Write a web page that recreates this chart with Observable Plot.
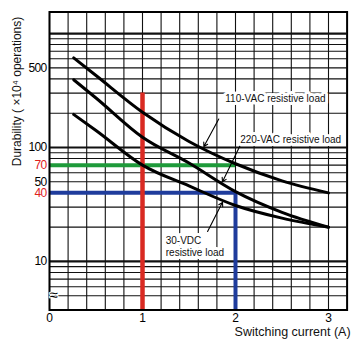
<!DOCTYPE html>
<html><head><meta charset="utf-8">
<script src="https://cdn.jsdelivr.net/npm/d3@7"></script>
<script src="https://cdn.jsdelivr.net/npm/@observablehq/plot@0.6"></script>
<style>
html,body{margin:0;padding:0;background:#fff;}
#chart svg{display:block;}
.tk text{letter-spacing:-0.7px;}
</style></head><body><div id="chart"></div>
<script>
// Data
const currents = [0.26, 0.5, 1, 1.5, 2, 2.5, 3];
const vac110 = [612, 428, 204, 113, 72, 51, 40];
const vac220 = [393, 272, 123, 73, 41, 27, 20];
const vdc30  = [195, 141, 70, 46, 31, 24, 20];
const seriesNames = ["110-VAC resistive load", "220-VAC resistive load", "30-VDC\nresistive load"];
const xTickLabels = [0, 1, 2, 3];
const yTickLabels = [500, 100, 50, 10];
const yTickLabelsRed = [70, 40];
const xGridValues = [0,0.2,0.4,0.6,0.8,1,1.2,1.4,1.6,1.8,2,2.2,2.4,2.6,2.8,3];
const yGridValues = [5,6,7,8,9,20,30,40,50,60,70,80,90,200,300,400,500,600,700,800,900];
const yDecades = [10, 100, 1000];
// highlighted reading: 1 A (up to 300), 2 A → 70 (110-VAC), 40 (220-VAC)
const redCurrent = [1];
const redTop = 300;
const guideCurrent = [2];
const greenValue = [70];
const blueValue = [40];
// label anchors (current, durability) and arrows (from → to)
const labelAt = [[1.89, 269], [2.05, 117.5], [1.25, 13.7]];
const arrowLinks = [[1.82, 178, 1.66, 102], [2.05, 104, 1.86, 50], [1.70, 18.3, 1.86, 33]];

const yMin = 3.75, yMax = 1545;
const rows = [];
[vac110, vac220, vdc30].forEach((vals, k) => currents.forEach((c, i) => rows.push({c, v: vals[i], s: k})));

const narrow = "'Liberation Sans Narrow', 'Arial Narrow', 'Liberation Sans', Arial, sans-serif";
const sans = "'Liberation Sans', Arial, Helvetica, sans-serif";

const chart = Plot.plot({
  width: 362, height: 345,
  marginLeft: 49, marginRight: 15.4, marginTop: 11.5, marginBottom: 35.5,
  x: {domain: [0, 3.2], axis: null},
  y: {type: "log", domain: [yMin, yMax], axis: null},
  style: {fontFamily: sans, background: "white"},
  marks: [
    Plot.gridX(xGridValues, {stroke: "#111", strokeOpacity: 1, strokeWidth: 1.1}),
    Plot.gridY(yGridValues, {stroke: "#111", strokeOpacity: 1, strokeWidth: 1.1}),
    Plot.gridY(yDecades, {stroke: "#111", strokeOpacity: 1, strokeWidth: 2.2}),
    Plot.ruleY(greenValue, {x1: 0, x2: guideCurrent[0], stroke: "#1e9a3a", strokeWidth: 4}),
    Plot.ruleY(blueValue, {x1: 0, x2: guideCurrent[0], stroke: "#1f3c9c", strokeWidth: 4}),
    Plot.ruleX(guideCurrent, {y1: yMin, y2: blueValue[0], stroke: "#1f3c9c", strokeWidth: 4}),
    Plot.ruleX(redCurrent, {y1: yMin, y2: redTop, stroke: "#d92a22", strokeWidth: 4.5}),
    Plot.line(rows, {x: "c", y: "v", z: "s", stroke: "#000", strokeWidth: 3, curve: "monotone-x"}),
    Plot.frame({stroke: "#000", strokeWidth: 2}),
    Plot.arrow(arrowLinks, {x1: d => d[0], y1: d => d[1], x2: d => d[2], y2: d => d[3], stroke: "#000", strokeWidth: 1.1, headLength: 6}),
    Plot.text(seriesNames, {x: (d, i) => labelAt[i][0], y: (d, i) => labelAt[i][1], text: d => d,
      textAnchor: "start", lineAnchor: "middle", lineHeight: 1.2, fontSize: 10, fill: "#111", stroke: "white", strokeWidth: 6}),
    Plot.text(["≈"], {frameAnchor: "bottom-left", dy: -10, text: d => d, fontSize: 15, fill: "#000", stroke: "white", strokeWidth: 2}),
    Plot.text(yTickLabels, {x: 0, y: d => d, text: d => String(d), dx: -3, textAnchor: "end", fontSize: 12, fontFamily: narrow, fill: "#000", className: "tk"}),
    Plot.text(yTickLabelsRed, {x: 0, y: d => d, text: d => String(d), dx: -3, textAnchor: "end", fontSize: 12, fontFamily: narrow, fill: "#e0201c", className: "tk"}),
    Plot.text(xTickLabels, {x: d => d, y: yMin, text: d => String(d), dy: 3.5, lineAnchor: "top", fontSize: 12, fontFamily: narrow, fill: "#000"}),
    Plot.text(["Switching current (A)"], {frameAnchor: "bottom-right", dx: 3.5, dy: 22, text: d => d, textAnchor: "end", lineAnchor: "middle", fontSize: 12.5, fill: "#111"}),
    Plot.text(["Durability ( ×10⁴ operations)"], {frameAnchor: "left", dx: -32, dy: -69.5, rotate: -90, text: d => d, textAnchor: "middle", lineAnchor: "middle", fontSize: 12, fill: "#111"})
  ]
});
document.getElementById("chart").appendChild(chart);
</script>
</body></html>
